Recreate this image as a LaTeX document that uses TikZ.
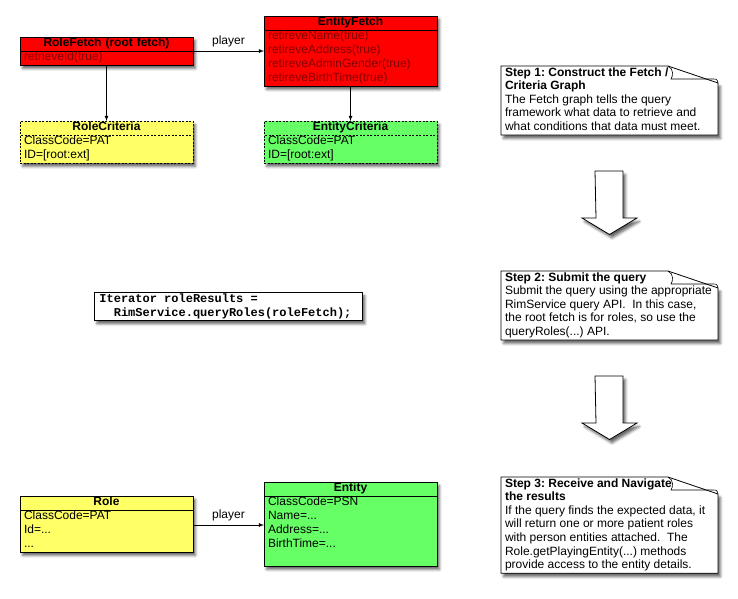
\documentclass[tikz,border=0pt]{standalone}
\usepackage{fontspec}
\setmainfont{Liberation Sans}
\setmonofont{Liberation Mono}
\usetikzlibrary{positioning,shadows.blur,backgrounds}
\frenchspacing

\definecolor{fetchred}{RGB}{255,0,0}
\definecolor{fetchtext}{RGB}{130,0,0}
\definecolor{roleyellow}{RGB}{255,255,102}
\definecolor{entitygreen}{RGB}{102,255,102}

\tikzset{
	classpart/.style={draw=black, line width=0.8pt, rectangle, outer sep=0pt,
		text width=165pt, inner xsep=4pt, inner ysep=0pt,
		execute at begin node=\strut, execute at end node=\strut},
	classhead/.style={classpart, anchor=north west, align=center,
		font=\fontsize{12}{14}\selectfont\bfseries},
	classbody/.style={classpart, align=flush left, font=\fontsize{12}{14}\selectfont},
	fetchbox/.style={fill=fetchred},
	criteriabox/.style={dash pattern=on 2pt off 1.5pt},
	boxshadow/.style={blur shadow={shadow xshift=2.5pt, shadow yshift=-3.5pt,
		shadow blur radius=2.5pt, shadow opacity=60}},
	link/.style={->, line width=0.8pt},
	codebox/.style={draw=black, line width=0.8pt, fill=white, anchor=north west,
		text width=258pt, inner xsep=5pt, inner ysep=0pt, align=flush left,
		font=\fontsize{12}{14}\selectfont\ttfamily\bfseries,
		execute at begin node=\strut, execute at end node=\strut, boxshadow},
	notetext/.style={anchor=north west, outer sep=0pt, text width=209pt,
		inner xsep=4pt, inner ysep=0.5pt, align=flush left,
		font=\fontsize{12}{13.6}\selectfont,
		execute at begin node=\strut, execute at end node=\strut},
	notebox/.style={draw=black, line width=0.8pt, fill=white, line join=miter, boxshadow},
	bigarrow/.style={draw=black, line width=0.8pt, fill=white, line join=miter, boxshadow}
}

\begin{document}
\begin{tikzpicture}[x=1pt, y=-1pt, >=latex]
	\useasboundingbox (0,0) rectangle (738,598);

	% fetch / criteria graph
	\node[classhead, fetchbox] (rfhead) at (20,37) {RoleFetch (root fetch)};
	\node[classbody, fetchbox, text=fetchtext, below=0pt of rfhead] (rfbody) {retrieveId(true)};
	\node[classhead, fetchbox] (efhead) at (264,16) {EntityFetch};
	\node[classbody, fetchbox, text=fetchtext, below=0pt of efhead] (efbody)
		{retireveName(true)\\retireveAddress(true)\\retireveAdminGender(true)\\retireveBirthTime(true)};

	\node[classhead, criteriabox, fill=roleyellow] (rchead) at (20,121) {RoleCriteria};
	\node[classbody, criteriabox, fill=roleyellow, below=0pt of rchead] (rcbody) {ClassCode=PAT\\ID=[root:ext]};
	\node[classhead, criteriabox, fill=entitygreen] (echead) at (264,121) {EntityCriteria};
	\node[classbody, criteriabox, fill=entitygreen, below=0pt of echead] (ecbody) {ClassCode=PAT\\ID=[root:ext]};

	% query call
	\node[codebox] (query) at (94,292) {Iterator roleResults =\\\hspace*{14.4pt}RimService.queryRoles(roleFetch);};

	% results
	\node[classhead, fill=roleyellow] (rohead) at (20,496) {Role};
	\node[classbody, fill=roleyellow, below=0pt of rohead] (robody) {ClassCode=PAT\\Id=...\\...};
	\node[classhead, fill=entitygreen] (enhead) at (264,482) {Entity};
	\node[classbody, fill=entitygreen, below=0pt of enhead] (enbody)
		{ClassCode=PSN\\Name=...\\Address=...\\BirthTime=...\\\mbox{}};

	\path[link] (rfhead.south east) edge node[above, font=\fontsize{12}{14}\selectfont] {player} (rfhead.south east -| efhead.west);
	\path[link] (rfbody) edge (rchead);
	\path[link] (efbody) edge (echead);
	\coordinate (roleout) at ([yshift=6pt]robody.east);
	\path[link] (roleout) edge node[above, font=\fontsize{12}{14}\selectfont] {player} (roleout -| enbody.west);

	% steps
	\node[notetext] (s1) at (501,66) {\textbf{Step 1: Construct the Fetch /}\\\textbf{Criteria Graph}\\The Fetch graph tells the query\\framework what data to retrieve and\\what conditions that data must meet.};
	\node[notetext] (s2) at (501,271) {\textbf{Step 2: Submit the query}\\Submit the query using the appropriate\\RimService query API.\ \ In this case,\\the root fetch is for roles, so use the\\queryRoles(...) API.};
	\node[notetext] (s3) at (501,477) {\textbf{Step 3: Receive and Navigate}\\\textbf{the results}\\If the query finds the expected data, it\\will return one or more patient roles\\with person entities attached.\ \ The\\Role.getPlayingEntity(...) methods\\provide access to the entity details.};

	\foreach \y in {171,376}
		\draw[bigarrow] (595,\y) -- ++(28,0) -- ++(0,47) -- ++(14,0) -- ++(-27.5,16.5) -- ++(-27.5,-16.5) -- ++(14,0) -- cycle;

	\begin{scope}[on background layer]
		\foreach \cls in {rf,ef,rc,ec,ro,en}
			\path[boxshadow] (\cls head.north west) rectangle (\cls body.south east);
		\foreach \stp in {s1,s2,s3} {
			\draw[notebox] (\stp.north west) -- ([xshift=-50pt]\stp.north east) -- ([yshift=-17pt]\stp.north east)
				-- (\stp.south east) -- (\stp.south west) -- cycle;
			\draw[line width=0.6pt] ([xshift=-50pt]\stp.north east)
				.. controls ([xshift=-44pt,yshift=-3pt]\stp.north east) and ([xshift=-45pt,yshift=-10pt]\stp.north east)
				.. ([xshift=-47pt,yshift=-13pt]\stp.north east) -- ([xshift=-6pt,yshift=-13pt]\stp.north east)
				.. controls ([xshift=-1pt,yshift=-13pt]\stp.north east) .. ([yshift=-17pt]\stp.north east);
		}
	\end{scope}
\end{tikzpicture}
\end{document}
